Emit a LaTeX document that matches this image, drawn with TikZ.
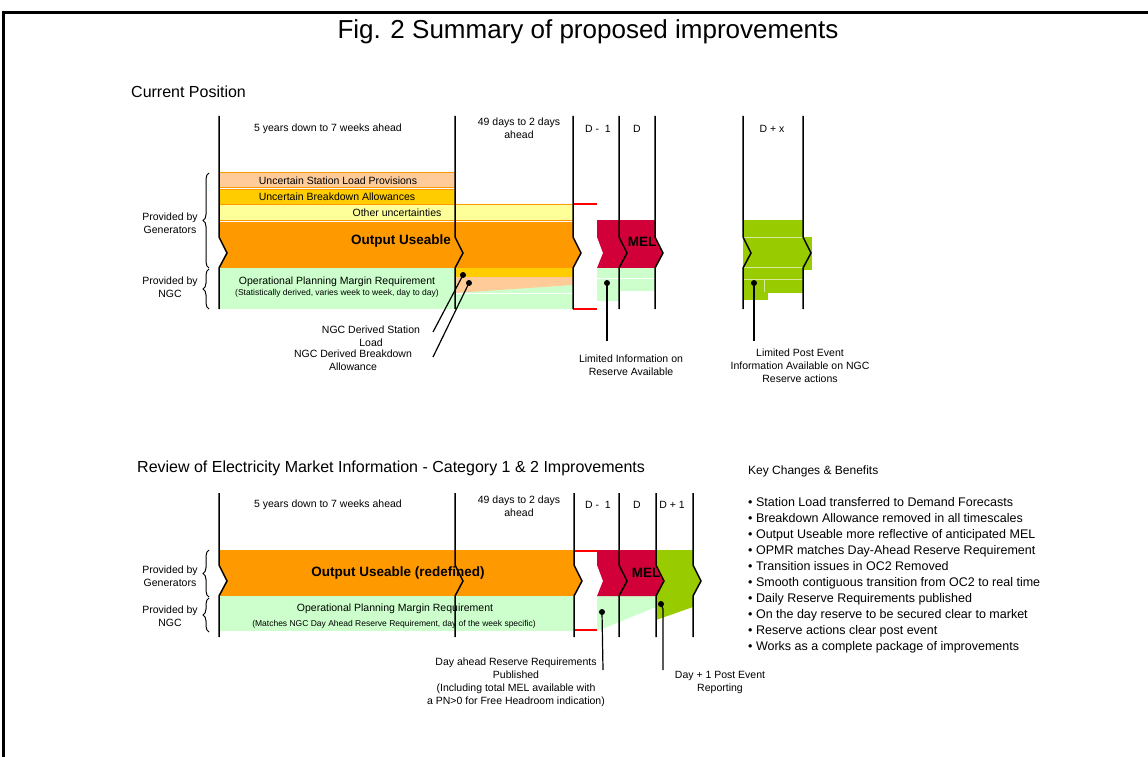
\documentclass[tikz,border=0pt]{standalone}
\usepackage{fontspec}
\setmainfont{Liberation Sans}
\usetikzlibrary{positioning, arrows.meta, decorations.pathreplacing}

\definecolor{useorange}{HTML}{FF9900}
\definecolor{peach}{HTML}{FFCC99}
\definecolor{gold}{HTML}{FFCC00}
\definecolor{paleyellow}{HTML}{FFFF99}
\definecolor{mint}{HTML}{CCFFCC}
\definecolor{mel}{HTML}{D20038}
\definecolor{leaf}{HTML}{99CC00}

% time boundary with a kink: x, top, bottom, kink middle
\newcommand{\timeline}[4]{\draw[tline] (#1,#2) -- (#1,#4-16) -- (#1+8,#4) -- (#1,#4+15) -- (#1,#3);}

\begin{document}
\begin{tikzpicture}[
    x=1pt, y=-1pt,
    every node/.style={inner sep=0pt, align=center, font=\fontsize{10.5}{13}\selectfont},
    tline/.style={line width=1.5pt},
    band/.style={draw=useorange, line width=1pt},
    seam/.style={white, line width=0.6pt},
    bold/.style={font=\fontsize{13.5}{16}\selectfont\bfseries},
    small/.style={font=\fontsize{8.5}{10}\selectfont},
    heading/.style={font=\fontsize{16}{19}\selectfont, anchor=west},
    dot/.style={circle, fill=black, minimum size=6pt},
    conn/.style={line width=1.2pt},
    redtick/.style={red, line width=1.5pt},
    gbrace/.style={decorate, decoration={brace, amplitude=6pt}, line width=1pt}
]
\useasboundingbox (0,0) rectangle (1148,757);
\draw[line width=3pt] (3,757) -- (3,13) -- (1148,13);

\node[font=\fontsize{26}{30}\selectfont] (title) at (588,32) {Fig. 2 Summary of proposed improvements};

%% current position
\node[heading] (cur) at (131,92) {Current Position};

% uncertainty bands
\filldraw[band, fill=peach] (219,172) rectangle (455,187);
\filldraw[band, fill=gold] (219,189) rectangle (455,204);
\filldraw[band, fill=paleyellow] (219,204) rectangle (573,220);
\fill[useorange] (219,222) -- (573,222) -- (573,237) -- (581,253) -- (573,268) -- (219,268) -- (227,253) -- (219,237) -- cycle;
% margin below output useable
\fill[mint] (219,268) rectangle (573,309);
\fill[gold] (455,268) rectangle (573,277);
\fill[peach] (455,277) -- (573,277) -- (573,285) -- (455,293) -- cycle;
\draw[seam] (455,293) -- (573,293);
% MEL on the day
\fill[mel] (597,220) -- (655,220) -- (655,237) -- (663,253) -- (655,268) -- (597,268) -- (603,253) -- (597,237) -- cycle;
\fill[mint] (597,268) rectangle (655,291);
\fill[mint] (597,291) rectangle (619,301);
\draw[seam] (597,278) -- (655,278);
% post event
\fill[leaf] (743,220) rectangle (803,293);
\fill[leaf] (803,237) rectangle (812,270);
\fill[leaf] (743,293) rectangle (768,300);
\draw[seam, opacity=.6] (743,237) -- (803,237) (743,267) -- (803,267) (743,279) -- (803,279) (764,279) -- (764,292);

\node (hd1) at (328,129) {5 years down to 7 weeks ahead};
\node (hd2) at (519,128.5) {49 days to 2 days\\ahead};
\node (hd3) at (598,129) {D -~~1};
\node (hd4) at (637,129) {D};
\node (hd5) at (772,129) {D + x};

\node (slp) at (338,180.5) {Uncertain Station Load Provisions};
\node (uba) at (337,197) {Uncertain Breakdown Allowances};
\node (oth) at (397,212.5) {Other uncertainties};
\node[bold] (ou) at (401,241) {Output Useable};
\node (opmr) at (337,282) {Operational Planning Margin Requirement};
\node[small] (opmrs) at (337,293.5) {(Statistically derived, varies week to week, day to day)};
\node[bold] (melA) at (642,242) {MEL};

\node (gen) at (170,223) {Provided by\\Generators};
\node (ngc) at (170,287.5) {Provided by\\NGC};
\draw[gbrace] (209,268) -- (209,173);
\draw[gbrace] (209,309) -- (209,269);

\draw[redtick] (573,204) -- (597,204);
\draw[redtick] (573,309) -- (597,309);

\timeline{219}{116}{309}{253}
\timeline{455}{116}{309}{253}
\timeline{573}{116}{309}{253}
\timeline{619}{116}{309}{253}
\timeline{655}{116}{309}{253}
\timeline{743}{116}{309}{253}
\timeline{803}{116}{309}{253}

% callouts
\node (sload) at (371,336) {NGC Derived Station\\Load};
\node (bdown) at (353,360.5) {NGC Derived Breakdown\\Allowance};
\node (limres) at (631,365) {Limited Information on\\Reserve Available};
\node (limpost) at (800,366) {Limited Post Event\\Information Available on NGC\\Reserve actions};
\node[dot] (d1) at (463,275) {};
\node[dot] (d2) at (469,283) {};
\node[dot] (d3) at (607,283) {};
\node[dot] (d4) at (754,283) {};
\coordinate (e1) at (433,332);
\coordinate (e2) at (433,357);
\coordinate (e3) at (607,341);
\coordinate (e4) at (754,341);
\draw[conn] (d1.center) -- (e1);
\draw[conn] (d2.center) -- (e2);
\draw[conn] (d3.center) -- (e3);
\draw[conn] (d4.center) -- (e4);

%% improvements
\node[heading] (rev) at (137,468) {Review of Electricity Market Information - Category 1 \& 2 Improvements};

\fill[useorange] (219,550) -- (574,550) -- (574,565) -- (582,581) -- (574,596) -- (219,596) -- (227,581) -- (219,565) -- cycle;
\fill[mint] (219,596) rectangle (574,631);
\fill[leaf] (656,550) -- (693,550) -- (693,565) -- (701,581) -- (693,596) -- (693,607) -- (656,620) -- cycle;
\fill[mint] (597,596) -- (656,596) -- (656,607) -- (597,631) -- cycle;
\fill[mel] (597,550) -- (656,550) -- (656,565) -- (664,581) -- (656,596) -- (597,596) -- (603,581) -- (597,565) -- cycle;

\node (hd6) at (328,505) {5 years down to 7 weeks ahead};
\node (hd7) at (519,506) {49 days to 2 days\\ahead};
\node (hd8) at (598,505) {D -~~1};
\node (hd9) at (637,505) {D};
\node (hd10) at (672,505) {D + 1};

\node[bold] (ou2) at (398,573) {Output Useable (redefined)};
\node (opmr2) at (395,609) {Operational Planning Margin Requirement};
\node[small] (opmr2s) at (394,624) {(Matches NGC Day Ahead Reserve Requirement, day of the week specific)};
\node[bold] (melB) at (646,573) {MEL};

\node (gen2) at (170,576) {Provided by\\Generators};
\node (ngc2) at (170,616) {Provided by\\NGC};
\draw[gbrace] (209,597) -- (209,550);
\draw[gbrace] (209,632) -- (209,598);

\draw[redtick] (574,551) -- (597,551);
\draw[redtick] (574,630) -- (597,630);

\timeline{219}{493}{637}{581}
\timeline{455}{493}{637}{581}
\timeline{574}{493}{637}{581}
\timeline{619}{493}{637}{581}
\timeline{656}{493}{637}{581}
\timeline{693}{493}{637}{581}

\node (pub) at (516,682) {Day ahead Reserve Requirements\\Published\\(Including total MEL available with\\a PN>0 for Free Headroom indication)};
\node (rep) at (720,682.5) {Day + 1 Post Event\\Reporting};
\node[dot] (d5) at (602,612) {};
\node[dot] (d6) at (661,604) {};
\coordinate (e5) at (603,670);
\coordinate (e6) at (663,670);
\draw[conn] (d5.center) -- (e5);
\draw[conn] (d6.center) -- (663,609) -- (e6);

% benefits list
\node[font=\fontsize{12}{15}\selectfont, anchor=west] (keyhd) at (748,471) {Key Changes \& Benefits};
\node[font=\fontsize{12.5}{16}\selectfont, anchor=north west, align=left] (keylist) at (748,497) {%
• Station Load transferred to Demand Forecasts\\
• Breakdown Allowance removed in all timescales\\
• Output Useable more reflective of anticipated MEL\\
• OPMR matches Day-Ahead Reserve Requirement\\
• Transition issues in OC2 Removed\\
• Smooth contiguous transition from OC2 to real time\\
• Daily Reserve Requirements published\\
• On the day reserve to be secured clear to market\\
• Reserve actions clear post event\\
• Works as a complete package of improvements};
\end{tikzpicture}
\end{document}
